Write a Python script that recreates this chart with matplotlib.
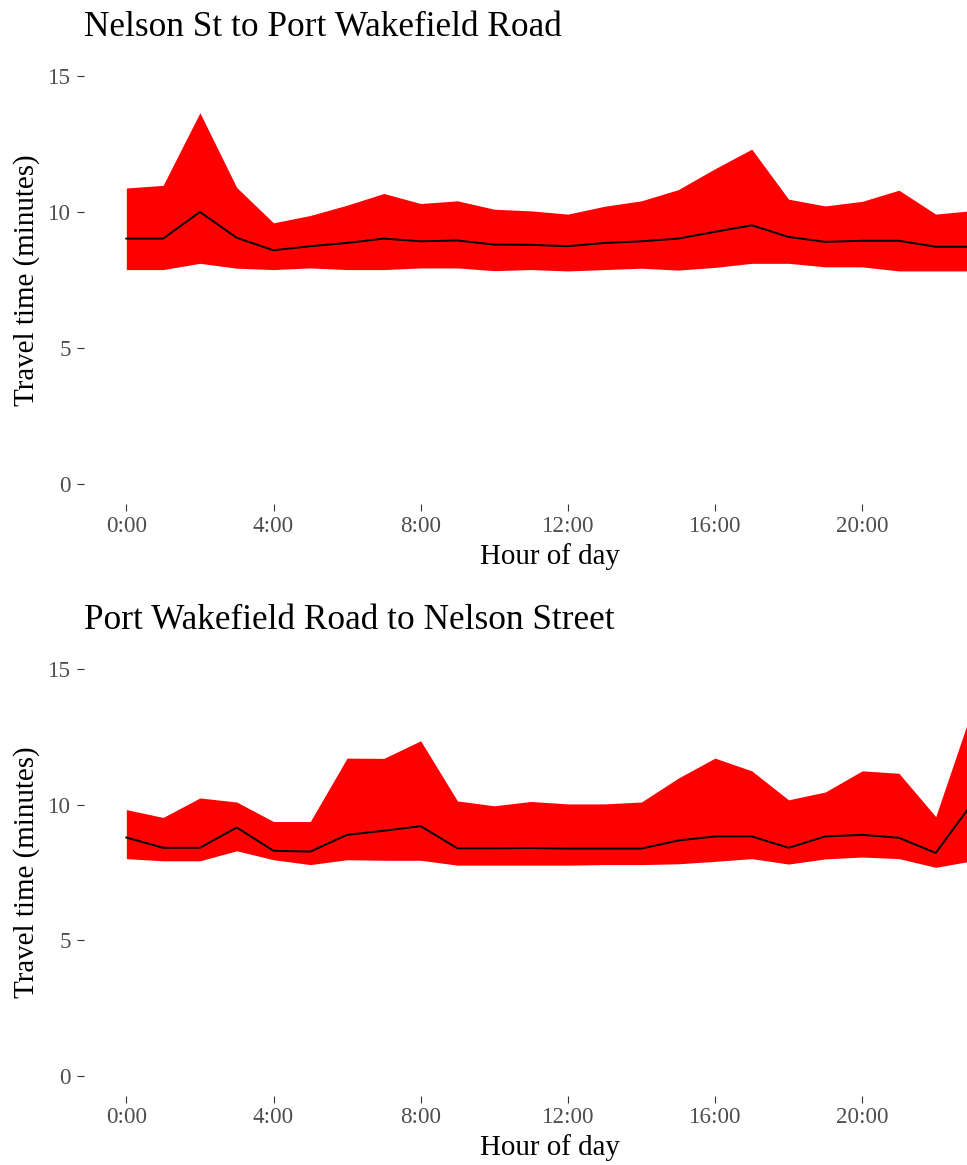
import matplotlib as mpl
import matplotlib.pyplot as plt

mpl.rcParams['font.family'] = ['Liberation Serif', 'DejaVu Serif']

hours = list(range(24))
tick_hours = [0, 4, 8, 12, 16, 20]
tick_labels = ['0:00', '4:00', '8:00', '12:00', '16:00', '20:00']
y_ticks = [0, 5, 10, 15]

# Nelson St -> Port Wakefield Road
nw_low = [7.89, 7.89, 8.12, 7.94, 7.89, 7.95, 7.89, 7.89, 7.95, 7.95, 7.85, 7.89,
          7.84, 7.89, 7.94, 7.87, 7.97, 8.12, 8.12, 7.99, 7.99, 7.84, 7.84, 7.84]
nw_med = [9.03, 9.03, 10.01, 9.06, 8.60, 8.75, 8.87, 9.03, 8.93, 8.96, 8.81, 8.80,
          8.75, 8.87, 8.93, 9.03, 9.28, 9.52, 9.09, 8.91, 8.95, 8.95, 8.73, 8.73]
nw_high = [10.89, 10.99, 13.66, 10.91, 9.61, 9.88, 10.26, 10.69, 10.32, 10.42, 10.11, 10.05,
           9.93, 10.22, 10.42, 10.83, 11.60, 12.32, 10.48, 10.23, 10.40, 10.81, 9.93, 10.06]

# Port Wakefield Road -> Nelson Street
wn_low = [8.01, 7.93, 7.93, 8.30, 7.97, 7.79, 7.97, 7.95, 7.95, 7.77, 7.77, 7.77,
          7.77, 7.79, 7.79, 7.82, 7.91, 8.01, 7.81, 8.00, 8.07, 8.01, 7.69, 7.93]
wn_med = [8.79, 8.41, 8.41, 9.16, 8.30, 8.27, 8.89, 9.04, 9.21, 8.39, 8.39, 8.40,
          8.38, 8.38, 8.38, 8.68, 8.83, 8.83, 8.41, 8.83, 8.89, 8.78, 8.22, 10.07]
wn_high = [9.82, 9.53, 10.25, 10.10, 9.38, 9.38, 11.72, 11.71, 12.36, 10.14, 9.96, 10.12,
           10.03, 10.03, 10.10, 10.98, 11.72, 11.25, 10.18, 10.47, 11.25, 11.16, 9.56, 13.55]

panels = [
    ('Nelson St to Port Wakefield Road', nw_low, nw_med, nw_high),
    ('Port Wakefield Road to Nelson Street', wn_low, wn_med, wn_high),
]

fig = plt.figure(figsize=(9.67, 11.65), dpi=100)
rects = [[0.0869, 0.567, 0.9131, 0.385], [0.0869, 0.0592, 0.9131, 0.3838]]

for rect, (title, low, med, high) in zip(rects, panels):
    ax = fig.add_axes(rect)
    ax.fill_between(hours, low, high, color='#FF0000', linewidth=0)
    ax.plot(hours, med, color='black', linewidth=1.4)

    # the original panel runs a bit past the right edge of the image
    ax.set_xlim(-1.15, 22.85)
    ax.set_ylim(-0.75, 15.75)
    ax.set_xticks(tick_hours)
    ax.set_xticklabels(tick_labels)
    ax.set_yticks(y_ticks)
    for s in ax.spines.values():
        s.set_visible(False)
    ax.tick_params(length=5, width=0.8, color='#333333', labelcolor='#4D4D4D',
                   labelsize=16.6)
    ax.tick_params(axis='y', pad=4.3)
    ax.tick_params(axis='x', pad=3)

    ax.set_xlabel('Hour of day', fontsize=20.9)
    ax.xaxis.set_label_coords(0.528, -0.086)
    ax.set_ylabel('Travel time (minutes)', fontsize=20.9, labelpad=6)
    ax.set_title(title, loc='left', fontsize=25.4, pad=14)

fig.savefig('out.png', dpi=100, facecolor='white')
